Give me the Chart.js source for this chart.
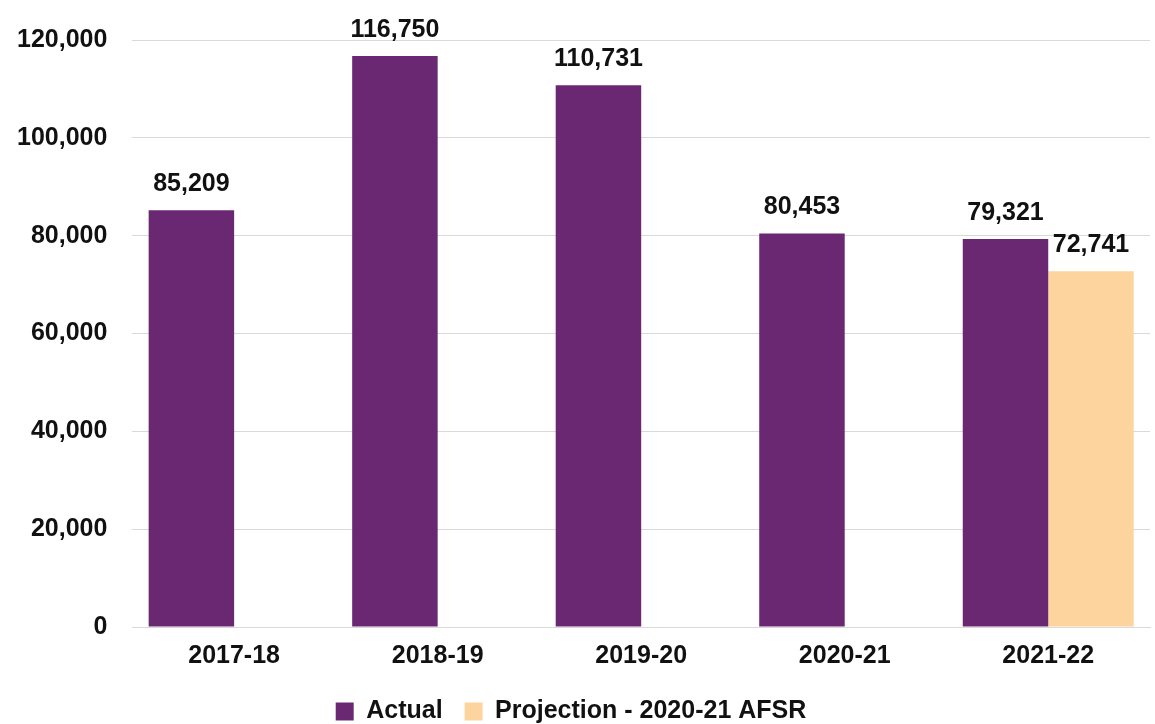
<!DOCTYPE html>
<html>
<head>
<meta charset="utf-8">
<script src="https://cdn.jsdelivr.net/npm/chart.js@4"></script>
<style>
  body { margin: 0; background: #fff; }
  #wrap { width: 1155px; height: 724px; }
</style>
</head>
<body>
<div id="wrap"><canvas id="chart"></canvas></div>
<script>
const years = ['2017-18', '2018-19', '2019-20', '2020-21', '2021-22']
const actual = [85209, 116750, 110731, 80453, 79321]
const projection = [null, null, null, null, 72741]

const purple = '#6a2873'
const peach = '#fdd49e'
const fontFam = '"Liberation Sans", Arial, sans-serif'

// draws the numbers above each bar
const valueLabels = {
  id: 'valueLabels',
  afterDatasetsDraw(chart) {
    const ctx = chart.ctx
    ctx.save()
    ctx.font = 'bold 25px ' + fontFam
    ctx.fillStyle = '#111'
    ctx.textAlign = 'center'
    ctx.textBaseline = 'alphabetic'
    chart.data.datasets.forEach((ds, i) => {
      chart.getDatasetMeta(i).data.forEach((bar, j) => {
        let v = ds.data[j]
        if (v == null) return
        ctx.fillText(v.toLocaleString('en-US'), bar.x, bar.y - 19)
      })
    })
    ctx.restore()
  }
}

const chart = new Chart(document.getElementById('chart'), {
  type: 'bar',
  data: {
    labels: years,
    datasets: [{
      label: 'Actual',
      data: actual,
      backgroundColor: purple
    }, {
      label: 'Projection - 2020-21 AFSR',
      data: projection,
      backgroundColor: peach
    }]
  },
  options: {
    responsive: true,
    maintainAspectRatio: false,
    animation: false,
    layout: { padding: { top: 25, right: 5, left: -8, bottom: -10 } },
    datasets: { bar: { categoryPercentage: 0.84, barPercentage: 1.0 } },
    plugins: {
      legend: {
        position: 'bottom',
        labels: {
          color: '#111',
          font: { family: fontFam, size: 25, weight: 'bold' },
          boxWidth: 18,
          boxHeight: 18,
          padding: 22
        }
      },
      tooltip: { enabled: false }
    },
    scales: {
      x: {
        grid: { display: false },
        border: { color: '#d9d9d9' },
        ticks: {
          color: '#111',
          padding: 6,
          font: { family: fontFam, size: 25, weight: 'bold' }
        }
      },
      y: {
        min: 0,
        max: 120000,
        ticks: {
          stepSize: 20000,
          color: '#111',
          padding: 25,
          font: { family: fontFam, size: 25, weight: 'bold' },
          callback: v => v.toLocaleString('en-US')
        },
        grid: { color: '#d9d9d9', drawTicks: false },
        border: { display: false }
      }
    }
  },
  plugins: [valueLabels]
})
</script>
</body>
</html>
